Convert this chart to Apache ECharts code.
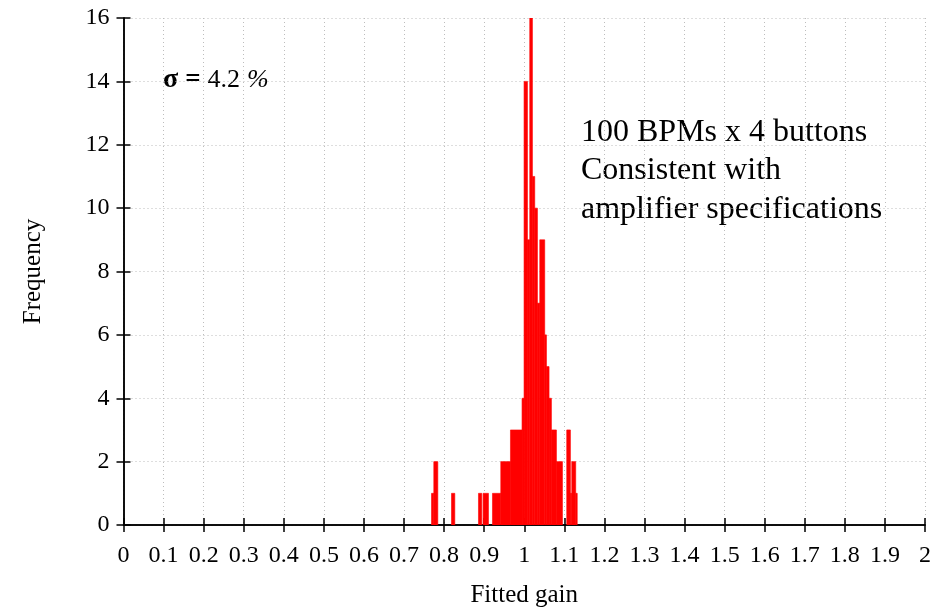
<!DOCTYPE html>
<html>
<head>
<meta charset="utf-8">
<script src="https://cdn.jsdelivr.net/npm/echarts@6/dist/echarts.min.js"></script>
<style>html,body{margin:0;padding:0;background:#fff}#c{width:944px;height:607px}</style>
</head>
<body>
<div id="c"></div>
<script>
// Histogram bins (fitted gain ranges) and their frequencies
const binStart = [0.7686, 0.7743, 0.8185, 0.8858, 0.8973, 0.9207, 0.9414, 0.9656, 0.9945, 0.9995, 1.0080, 1.0137, 1.0204, 1.0262, 1.0329, 1.0387, 1.0511, 1.0554, 1.0619, 1.0678, 1.0803, 1.1060, 1.1152, 1.1185, 1.1284];
const binEnd   = [0.7743, 0.7843, 0.8267, 0.8940, 0.9107, 0.9414, 0.9656, 0.9945, 0.9995, 1.0080, 1.0137, 1.0204, 1.0262, 1.0329, 1.0387, 1.0511, 1.0554, 1.0619, 1.0678, 1.0803, 1.0953, 1.1152, 1.1185, 1.1284, 1.1322];
const counts   = [1, 2, 1, 1, 1, 1, 2, 3, 4, 14, 9, 16, 11, 10, 7, 9, 6, 5, 4, 3, 2, 3, 1, 2, 1];

const xTickLabels = ['0','0.1','0.2','0.3','0.4','0.5','0.6','0.7','0.8','0.9','1','1.1','1.2','1.3','1.4','1.5','1.6','1.7','1.8','1.9','2'];
const yTickLabels = ['0','2','4','6','8','10','12','14','16'];
const xTitle = 'Fitted gain';
const yTitle = 'Frequency';
const noteLines = ['100 BPMs x 4 buttons', 'Consistent with', 'amplifier specifications'];

const FONT = '"Liberation Serif", "DejaVu Serif", serif';
const chart = echarts.init(document.getElementById('c'), null, {renderer: 'canvas'});

const histData = binStart.map((s, i) => [s, binEnd[i], counts[i]]);

const gridLine = {show: true, lineStyle: {color: '#bdbdbd', type: [1, 3], width: 1}};
const axisLineBlack = {show: true, lineStyle: {color: '#000', width: 1.5}};
const tickInside = {show: true, inside: true, length: 7, lineStyle: {color: '#000', width: 1.5}};

const option = {
  backgroundColor: '#fff',
  animation: false,
  grid: {left: 123.5, right: 19, top: 18, bottom: 82, containLabel: false, outerBoundsMode: 'none'},
  xAxis: [{
    type: 'value', min: 0, max: 2, interval: 0.1, position: 'bottom',
    axisLine: axisLineBlack, axisTick: tickInside,
    splitLine: gridLine,
    axisLabel: {
      color: '#000', fontFamily: FONT, fontSize: 24, margin: 19,
      formatter: (v) => xTickLabels[Math.round(v * 10)] || ''
    },
    name: xTitle, nameLocation: 'middle', nameGap: 58,
    nameTextStyle: {color: '#000', fontFamily: FONT, fontSize: 25, verticalAlign: 'top'}
  }, {
    type: 'value', min: 0, max: 2, interval: 0.1, position: 'top',
    axisLine: axisLineBlack, axisTick: tickInside,
    splitLine: {show: false}, axisLabel: {show: false}
  }],
  yAxis: [{
    type: 'value', min: 0, max: 16, interval: 2, position: 'left',
    axisLine: axisLineBlack, axisTick: tickInside,
    splitLine: gridLine,
    axisLabel: {
      color: '#000', fontFamily: FONT, fontSize: 24, margin: 14,
      formatter: (v) => yTickLabels[Math.round(v / 2)] || ''
    },
    name: yTitle, nameLocation: 'middle', nameGap: 78, nameRotate: 90,
    nameTextStyle: {color: '#000', fontFamily: FONT, fontSize: 25}
  }, {
    type: 'value', min: 0, max: 16, interval: 2, position: 'right',
    axisLine: axisLineBlack, axisTick: tickInside,
    splitLine: {show: false}, axisLabel: {show: false}
  }],
  series: [{
    type: 'custom',
    xAxisIndex: 0, yAxisIndex: 0,
    clip: true,
    data: histData,
    encode: {x: [0, 1], y: 2},
    renderItem: function (params, api) {
      const x0 = api.value(0), x1 = api.value(1), c = api.value(2);
      const pTop = api.coord([x0, c]);
      const pBot = api.coord([x1, 0]);
      return {
        type: 'rect',
        shape: {x: pTop[0], y: pTop[1], width: pBot[0] - pTop[0], height: pBot[1] - pTop[1]},
        style: {fill: '#ff0000', stroke: '#ff0000', lineWidth: 0.6}
      };
    }
  }],
  graphic: [{
    type: 'text', left: 163, top: 66,
    style: {
      text: '{s|\u03c3} {e|=} {n|4.2} {p|%}',
      fontFamily: FONT, fontSize: 28, fill: '#000',
      rich: {
        s: {fontFamily: FONT, fontSize: 28, fontWeight: 'bold', fill: '#000'},
        e: {fontFamily: FONT, fontSize: 27, fontWeight: 'bold', fill: '#000'},
        n: {fontFamily: FONT, fontSize: 26, fill: '#000'},
        p: {fontFamily: FONT, fontSize: 26, fontStyle: 'italic', fill: '#000'}
      }
    }
  }, {
    type: 'text', left: 581, top: 113,
    style: {
      text: noteLines.join('\n'),
      fontFamily: FONT, fontSize: 32, lineHeight: 38.5, fill: '#000'
    }
  }]
};
chart.setOption(option);
</script>
</body>
</html>
